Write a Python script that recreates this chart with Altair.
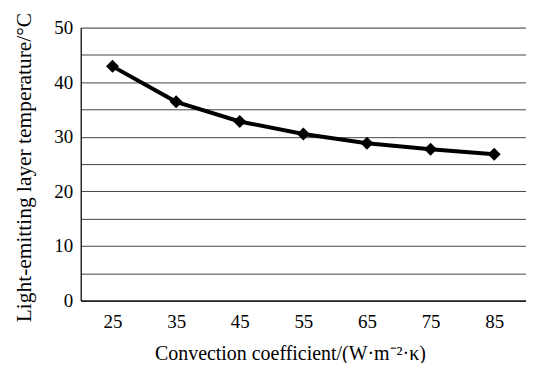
import altair as alt
import pandas as pd

coef = ["25", "35", "45", "55", "65", "75", "85"]
temp = [42.9, 36.4, 32.8, 30.5, 28.8, 27.7, 26.8]
y_ticks = [0, 5, 10, 15, 20, 25, 30, 35, 40, 45, 50]

df = pd.DataFrame({"coef": coef, "temp": temp})

FONT = "Liberation Serif"

x = alt.X("coef:O", sort=coef,
          scale=alt.Scale(type="point", padding=0.5),
          axis=alt.Axis(title="Convection coefficient/(W·m⁻²·κ)", labelAngle=0,
                        ticks=False, grid=False, domainColor="black", domainWidth=1.2,
                        labelPadding=12, titlePadding=12, labelFontSize=19,
                        titleFontSize=20, labelFont=FONT, titleFont=FONT,
                        titleX=210, titleAlign="center",
                        labelColor="black", titleColor="black", titleFontWeight="normal"))
y = alt.Y("temp:Q", scale=alt.Scale(domain=[0, 50], nice=False),
          axis=alt.Axis(title="Light-emitting layer temperature/°C", values=y_ticks,
                        labelExpr="datum.value % 10 == 0 ? datum.label : ''",
                        ticks=False, grid=True, gridColor="#444", gridWidth=1,
                        domainColor="black", domainWidth=1.2, labelPadding=8,
                        titlePadding=18, labelFontSize=19, titleFontSize=21.5,
                        titleY=140, titleAlign="center",
                        labelFont=FONT, titleFont=FONT, labelColor="black",
                        titleColor="black", titleFontWeight="normal"))

base = alt.Chart(df).encode(x=x, y=y)
line = base.mark_line(color="black", strokeWidth=4)
pts = base.mark_point(shape="diamond", filled=True, color="black", size=170, opacity=1)

chart = (line + pts).properties(
    width=447, height=274,
    autosize=alt.AutoSizeParams(type="none"),
    padding={"left": 73, "top": 19, "right": 0, "bottom": 62},
).configure_view(stroke=None).configure(background="white")

chart.save("out.html", embed_options={"renderer": "svg", "actions": False})
